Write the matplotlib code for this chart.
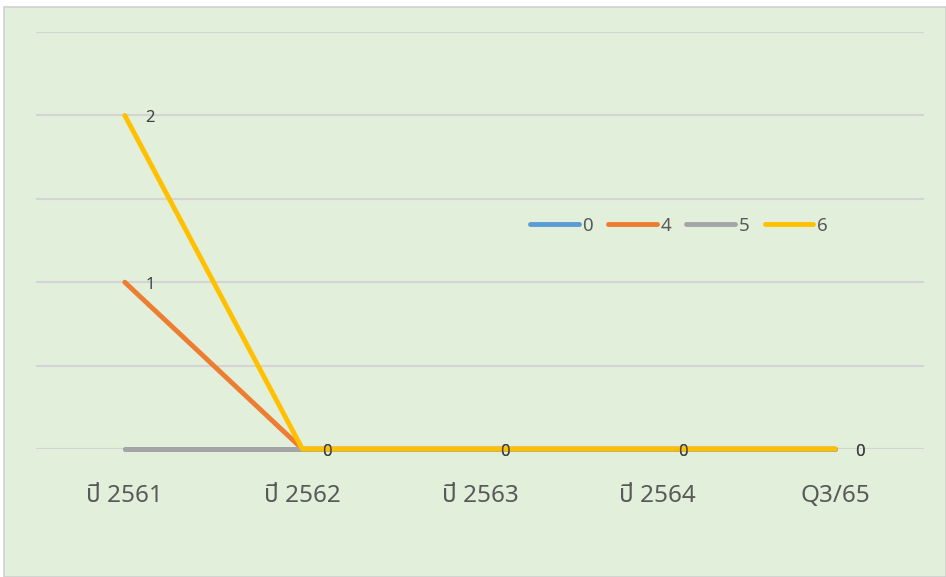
import matplotlib
matplotlib.use("Agg")
import matplotlib.pyplot as plt
from matplotlib import font_manager
from matplotlib.patches import Rectangle

categories = ["ปี 2561", "ปี 2562", "ปี 2563", "ปี 2564", "Q3/65"]
series_names = ["0", "4", "5", "6"]
series_values = [
    [0, 0, 0, 0, 0],
    [1, 0, 0, 0, 0],
    [0, 0, 0, 0, 0],
    [2, 0, 0, 0, 0],
]
labelled_series = ["4", "6"]
colors = ["#5b9bd5", "#ed7d31", "#a5a5a5", "#ffc000"]

# pick a font that has Thai glyphs
available = {f.name for f in font_manager.fontManager.ttflist}
thai_font = "DejaVu Sans"
for name in ["Noto Sans Thai", "Sarabun", "IBM Plex Sans Thai Looped", "Kanit"]:
    if name in available:
        thai_font = name
        break
plt.rcParams["font.family"] = ["Noto Sans", thai_font, "DejaVu Sans"]

text_color = "#595959"
bg = "#e2efda"

fig = plt.figure(figsize=(9.46, 5.77), dpi=100)
fig.patch.set_facecolor("white")
fig.add_artist(Rectangle((4 / 946, 0), 942 / 946, 1 - 7 / 577,
                         transform=fig.transFigure, facecolor=bg,
                         edgecolor="#d0d0d0", linewidth=1.2, zorder=-5))

ax = fig.add_axes([36 / 946, 1 - 449 / 577, 888 / 946, 417 / 577])
ax.set_facecolor("none")
x = list(range(len(categories)))

for name, values, color in zip(series_names, series_values, colors):
    ax.plot(x, values, color=color, linewidth=3.5, solid_capstyle="round",
            label=name, clip_on=False, zorder=3)
    if name in labelled_series:
        for xi, v in zip(x, values):
            ax.annotate(str(v), (xi, v), xytext=(18, -2), textcoords="offset points",
                        ha="center", va="center", fontsize=12, color="#404040")

ax.set_xlim(-0.5, len(categories) - 0.5)
ax.set_ylim(0, 2.5)
ax.set_yticks([0, 0.5, 1, 1.5, 2, 2.5])
ax.set_yticklabels([])
ax.grid(axis="y", color="#d4d4d4", linewidth=1.5)
ax.set_axisbelow(True)
ax.tick_params(axis="both", length=0)
ax.set_xticks(x)
ax.set_xticklabels(categories, fontsize=17.5, color=text_color)
ax.tick_params(axis="x", pad=25)
for spine in ax.spines.values():
    spine.set_visible(False)

leg = ax.legend(loc="center", bbox_to_anchor=(0.724, 0.535), ncol=4, frameon=False,
                fontsize=13.5, handlelength=2.6, handletextpad=0.2, columnspacing=0.8)
for t in leg.get_texts():
    t.set_color(text_color)
for h in leg.get_lines():
    h.set_linewidth(3.5)

fig.savefig("out.png", dpi=100, facecolor=fig.get_facecolor())
